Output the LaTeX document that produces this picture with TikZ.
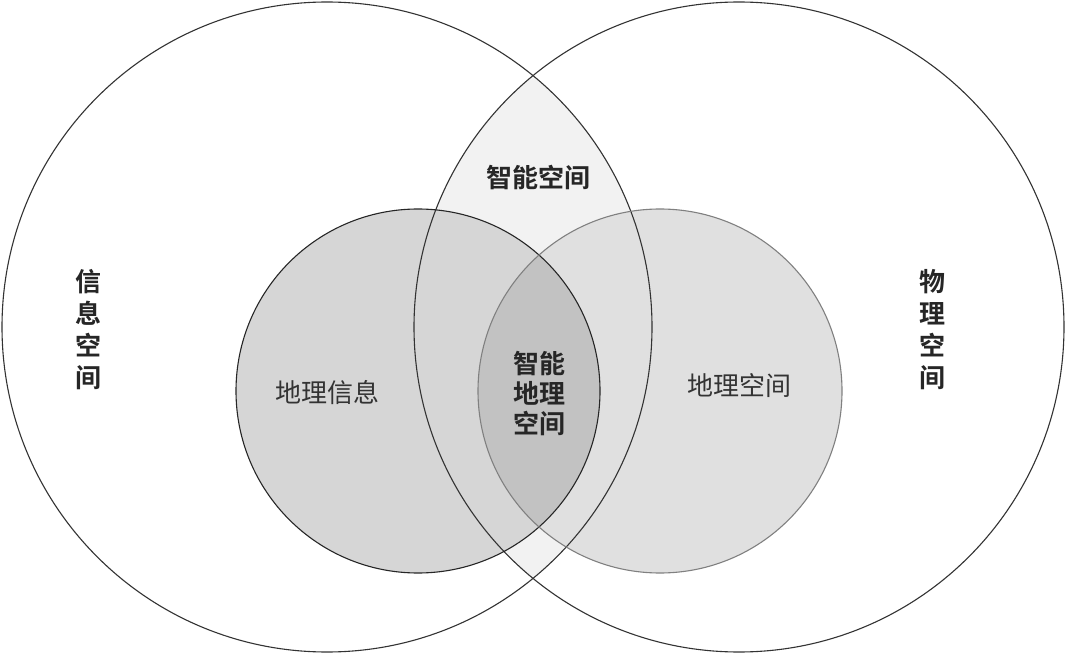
\documentclass[tikz,border=0pt]{standalone}
\usepackage{fontspec}
\newfontfamily\cjk{Noto Sans CJK SC}
\newfontfamily\cjkb{Noto Sans CJK SC Bold}
\begin{document}
\begin{tikzpicture}[x=1pt,y=-1pt,
  lab/.style={font=\cjk\fontsize{26}{30}\selectfont,text=black!80},
  blab/.style={font=\cjkb\fontsize{26}{30}\selectfont,text=black!85,align=center}]
\useasboundingbox[fill=white] (0,0) rectangle (1066,655);
% lens of big circles
\begin{scope}
  \clip (327,327) circle (325);
  \fill[black!5] (739,327) circle (325);
\end{scope}
\fill[black!16] (418,391) circle (182);
\fill[black!12] (660,391) circle (182);
\begin{scope}
  \clip (418,391) circle (182);
  \fill[black!24] (660,391) circle (182);
\end{scope}
\node[circle,draw=black!80,line width=1.1pt,minimum size=650pt] (L) at (327,327) {};
\node[circle,draw=black!80,line width=1.1pt,minimum size=650pt] (R) at (739,327) {};
\node[circle,draw=black!85,line width=1.1pt,minimum size=364pt] (SL) at (418,391) {};
\node[circle,draw=black!50,line width=1.1pt,minimum size=364pt] (SR) at (660,391) {};
\node[blab] (t1) at (538,177) {智能空间};
\node[blab,text width=30pt] (t2) at (88,330) {信\\[2pt]息\\[2pt]空\\[2pt]间};
\node[blab,text width=30pt] (t3) at (932,330) {物\\[2pt]理\\[2pt]空\\[2pt]间};
\node[blab] (t4) at (539,394) {智能\\[0pt]地理\\[0pt]空间};
\node[lab] (t5) at (327,393) {地理信息};
\node[lab] (t6) at (739,386) {地理空间};
\end{tikzpicture}
\end{document}
